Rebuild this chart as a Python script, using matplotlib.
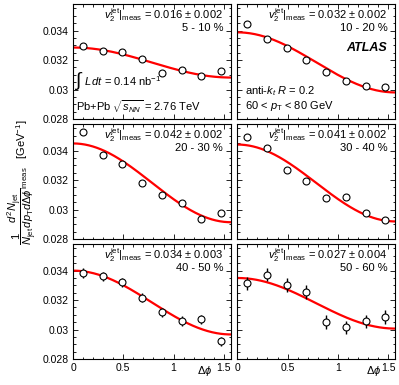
import numpy as np
import matplotlib
matplotlib.use("Agg")
import matplotlib.pyplot as plt
from matplotlib.ticker import MultipleLocator, FormatStrFormatter

plt.rcParams['font.family'] = ['Liberation Sans', 'DejaVu Sans']
plt.rcParams['mathtext.fontset'] = 'custom'
plt.rcParams['mathtext.rm'] = 'Liberation Sans'
plt.rcParams['mathtext.it'] = 'Liberation Sans:italic'
plt.rcParams['mathtext.bf'] = 'Liberation Sans:bold'

# Delta-phi bin centres (8 bins over 0..pi/2)
dphi = [0.098, 0.295, 0.491, 0.687, 0.884, 1.080, 1.276, 1.473]

centrality = ["5 - 10 %", "10 - 20 %", "20 - 30 %", "30 - 40 %", "40 - 50 %", "50 - 60 %"]
v2_text = ["0.016 ± 0.002", "0.032 ± 0.002", "0.042 ± 0.002",
           "0.041 ± 0.002", "0.034 ± 0.003", "0.027 ± 0.004"]
v2_fit = [0.016, 0.032, 0.042, 0.041, 0.034, 0.027]
norm_fit = [0.03183, 0.03184, 0.03181, 0.03180, 0.03183, 0.03178]

yields = [
    [0.03298, 0.03261, 0.03257, 0.03207, 0.03109, 0.03130, 0.03095, 0.03123],
    [0.03445, 0.03341, 0.03280, 0.03198, 0.03118, 0.03061, 0.03027, 0.03014],
    [0.03527, 0.03373, 0.03307, 0.03180, 0.03098, 0.03041, 0.02936, 0.02977],
    [0.03493, 0.03414, 0.03270, 0.03195, 0.03080, 0.03086, 0.02977, 0.02932],
    [0.03382, 0.03361, 0.03320, 0.03217, 0.03117, 0.03059, 0.03069, 0.02920],
    [0.03313, 0.03373, 0.03302, 0.03256, 0.03050, 0.03014, 0.03055, 0.03085],
]
errors = [0.00006, 0.00008, 0.0001, 0.00018, 0.00032, 0.00046]

fig = plt.figure(figsize=(3.99, 3.85), dpi=100)

col_left = [0.183, 0.5947]
row_bottom = [0.6909, 0.3792, 0.0675]
w, h = 0.396, 0.2987

axes = []
for i in range(6):
    r, c = divmod(i, 2)
    ax = fig.add_axes([col_left[c], row_bottom[r], w, h])
    axes.append(ax)

    phi = np.linspace(0, np.pi / 2, 200)
    ax.plot(phi, norm_fit[i] * (1 + 2 * v2_fit[i] * np.cos(2 * phi)),
            color='#ff0000', lw=1.6, zorder=2)
    ax.errorbar(dphi, yields[i], yerr=errors[i], fmt='o', ms=5,
                mfc='white', mec='black', mew=0.8, ecolor='black',
                elinewidth=1.0, capsize=0, zorder=3)

    ax.set_xlim(0, np.pi / 2)
    ax.set_ylim(0.028, 0.0358)
    ax.xaxis.set_major_locator(MultipleLocator(0.5))
    ax.xaxis.set_minor_locator(MultipleLocator(0.1))
    ax.yaxis.set_major_locator(MultipleLocator(0.002))
    ax.yaxis.set_minor_locator(MultipleLocator(0.0005))
    ax.tick_params(which='both', direction='in', top=True, right=True,
                   labelsize=7.5, pad=3)
    ax.tick_params(which='major', length=3.5, width=0.6)
    ax.tick_params(which='minor', length=1.8, width=0.6)
    for s in ax.spines.values():
        s.set_linewidth(0.8)
    ax.xaxis.set_major_formatter(FormatStrFormatter('%g'))
    ax.yaxis.set_major_formatter(FormatStrFormatter('%g'))
    if c == 1:
        ax.set_yticklabels([])
    if r < 2:
        ax.set_xticklabels([])

    ax.text(0.95, 0.905, r'$v_{2}^{\mathrm{jet}}|_{\mathrm{meas}}$ = ' + v2_text[i],
            transform=ax.transAxes, ha='right', va='center', fontsize=8)
    ax.text(0.95, 0.79, centrality[i], transform=ax.transAxes,
            ha='right', va='center', fontsize=8)

axes[0].text(0.015, 0.33, r'$\int$', transform=axes[0].transAxes,
             ha='left', va='center', fontsize=14)
axes[0].text(0.07, 0.33, r'$L\,dt$ = 0.14 nb$^{-1}$',
             transform=axes[0].transAxes, ha='left', va='center', fontsize=8)
axes[0].text(0.02, 0.105, r'Pb+Pb $\sqrt{s_{NN}}$ = 2.76 TeV',
             transform=axes[0].transAxes, ha='left', va='center', fontsize=8)
axes[1].text(0.947, 0.617, 'ATLAS', transform=axes[1].transAxes,
             ha='right', va='center', fontsize=9, fontweight='bold', style='italic')
axes[1].text(0.05, 0.246, r'anti-$k_{t}$ $R$ = 0.2',
             transform=axes[1].transAxes, ha='left', va='center', fontsize=8)
axes[1].text(0.05, 0.113, r'60 < $p_{\mathrm{T}}$ < 80 GeV',
             transform=axes[1].transAxes, ha='left', va='center', fontsize=8)

axes[4].text(0.83, -0.1, r'$\Delta\phi$', transform=axes[4].transAxes,
             ha='center', va='center', fontsize=8)
axes[5].text(0.86, -0.1, r'$\Delta\phi$', transform=axes[5].transAxes,
             ha='center', va='center', fontsize=8)

fig.text(0.055, 0.527,
         r'$\dfrac{1}{N_{\mathrm{jet}}}\dfrac{d^{2}N_{\mathrm{jet}}}{dp_{\mathrm{T}}d\Delta\phi}\left|_{\mathrm{meas}}\right.$   [GeV$^{-1}$]',
         rotation=90, ha='center', va='center', fontsize=8)

fig.savefig('out.png', dpi=100)
